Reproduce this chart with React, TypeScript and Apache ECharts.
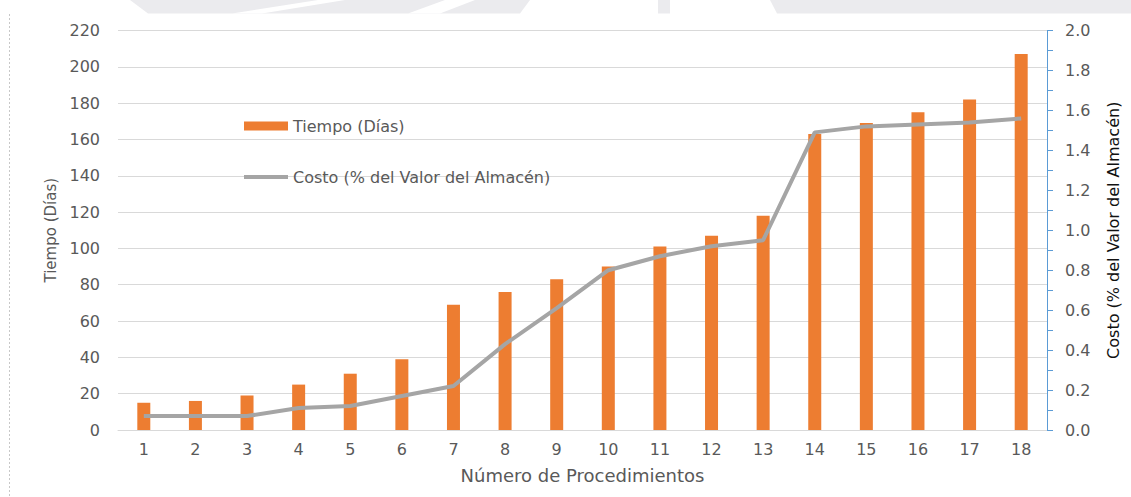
import React, { useEffect, useRef } from "react";
import * as echarts from "echarts";

const categories = ["1", "2", "3", "4", "5", "6", "7", "8", "9", "10", "11", "12", "13", "14", "15", "16", "17", "18"];
const tiempoDias = [15, 16, 19, 25, 31, 39, 69, 76, 83, 90, 101, 107, 118, 163, 169, 175, 182, 207];
const costoPct = [0.07, 0.07, 0.07, 0.11, 0.12, 0.17, 0.22, 0.43, 0.61, 0.8, 0.87, 0.92, 0.95, 1.49, 1.52, 1.53, 1.54, 1.56];
const seriesNames = ["Tiempo (Días)", "Costo (% del Valor del Almacén)"];
const axisNames = { left: "Tiempo (Días)", right: "Costo (% del Valor del Almacén)", bottom: "Número de Procedimientos" };

const FONT = "DejaVu Sans";
const GRAY_TEXT = "#595959";
const WM = "#EBEBEE";

export default function App() {
  const ref = useRef<HTMLDivElement>(null);
  useEffect(() => {
    document.body.style.margin = "0";
    const chart = echarts.init(ref.current!, undefined, { renderer: "svg" });
    chart.setOption({
      animation: false,
      backgroundColor: "#ffffff",
      graphic: [
        { type: "polygon", shape: { points: [[130, 0], [530, 0], [520, 13.5], [148, 13.5]] }, style: { fill: WM }, silent: true },
        { type: "polygon", shape: { points: [[232, 13.5], [262, 13.5], [345, 0], [318, 0]] }, style: { fill: "#fff" }, silent: true },
        { type: "polygon", shape: { points: [[408, 13.5], [440, 13.5], [475, 0], [445, 0]] }, style: { fill: "#fff" }, silent: true },
        { type: "rect", shape: { x: 658, y: 0, width: 12, height: 13.5 }, style: { fill: WM }, silent: true },
        { type: "polygon", shape: { points: [[770, 0], [1131, 0], [1131, 13.5], [777, 13.5]] }, style: { fill: WM }, silent: true },
        { type: "line", shape: { x1: 9.5, y1: 14, x2: 9.5, y2: 497 }, style: { stroke: "#C8C8C8", lineWidth: 1, lineDash: [2, 2] }, silent: true },
      ],
      grid: { left: 118, right: 84, top: 30.5, bottom: 67, containLabel: false },
      legend: {
        orient: "vertical",
        left: 237,
        top: 113,
        itemWidth: 44,
        itemHeight: 9,
        itemGap: 35,
        data: [
          { name: seriesNames[0], icon: "rect" },
          { name: seriesNames[1], itemStyle: { opacity: 0 }, lineStyle: { width: 4, color: "#A5A5A5" } },
        ],
        textStyle: { fontFamily: FONT, fontSize: 16, color: GRAY_TEXT, lineHeight: 16 },
      },
      xAxis: {
        type: "category",
        data: categories,
        boundaryGap: true,
        axisLine: { show: true, lineStyle: { color: "#D9D9D9", width: 1 } },
        axisTick: { show: false },
        axisLabel: { fontFamily: FONT, fontSize: 16, color: GRAY_TEXT, margin: 11 },
        name: axisNames.bottom,
        nameLocation: "middle",
        nameGap: 36,
        nameTextStyle: { fontFamily: FONT, fontSize: 18, color: GRAY_TEXT },
      },
      yAxis: [
        {
          type: "value",
          min: 0,
          max: 220,
          interval: 20,
          axisLine: { show: false },
          axisTick: { show: false },
          splitLine: { show: true, lineStyle: { color: "#D9D9D9", width: 1 } },
          axisLabel: { fontFamily: FONT, fontSize: 16, color: GRAY_TEXT, margin: 18 },
          name: axisNames.left,
          nameLocation: "middle",
          nameRotate: 90,
          nameGap: 58,
          nameTextStyle: { fontFamily: FONT, fontSize: 15, color: GRAY_TEXT },
        },
        {
          type: "value",
          position: "right",
          min: 0,
          max: 2,
          interval: 0.2,
          axisLine: { show: true, lineStyle: { color: "#5B9BD5", width: 1 } },
          axisTick: { show: true, inside: false, length: 6, lineStyle: { color: "#5B9BD5" } },
          minorTick: { show: true, splitNumber: 2, length: 6, lineStyle: { color: "#5B9BD5" } },
          splitLine: { show: false },
          axisLabel: {
            fontFamily: FONT,
            fontSize: 16,
            color: GRAY_TEXT,
            margin: 18,
            formatter: (v: number) => v.toFixed(1),
          },
          name: axisNames.right,
          nameLocation: "middle",
          nameRotate: 90,
          nameGap: 58,
          nameTextStyle: { fontFamily: FONT, fontSize: 16, color: "#111111" },
        },
      ],
      series: [
        {
          name: seriesNames[0],
          type: "bar",
          data: tiempoDias,
          barWidth: 13,
          itemStyle: { color: "#ED7D31" },
          yAxisIndex: 0,
        },
        {
          name: seriesNames[1],
          type: "line",
          data: costoPct,
          yAxisIndex: 1,
          symbol: "none",
          lineStyle: { color: "#A5A5A5", width: 4 },
          itemStyle: { color: "#A5A5A5" },
          z: 3,
        },
      ],
    });
    return () => chart.dispose();
  }, []);
  return <div ref={ref} style={{ position: "absolute", left: 0, top: 0, width: 1131, height: 497 }} />;
}
